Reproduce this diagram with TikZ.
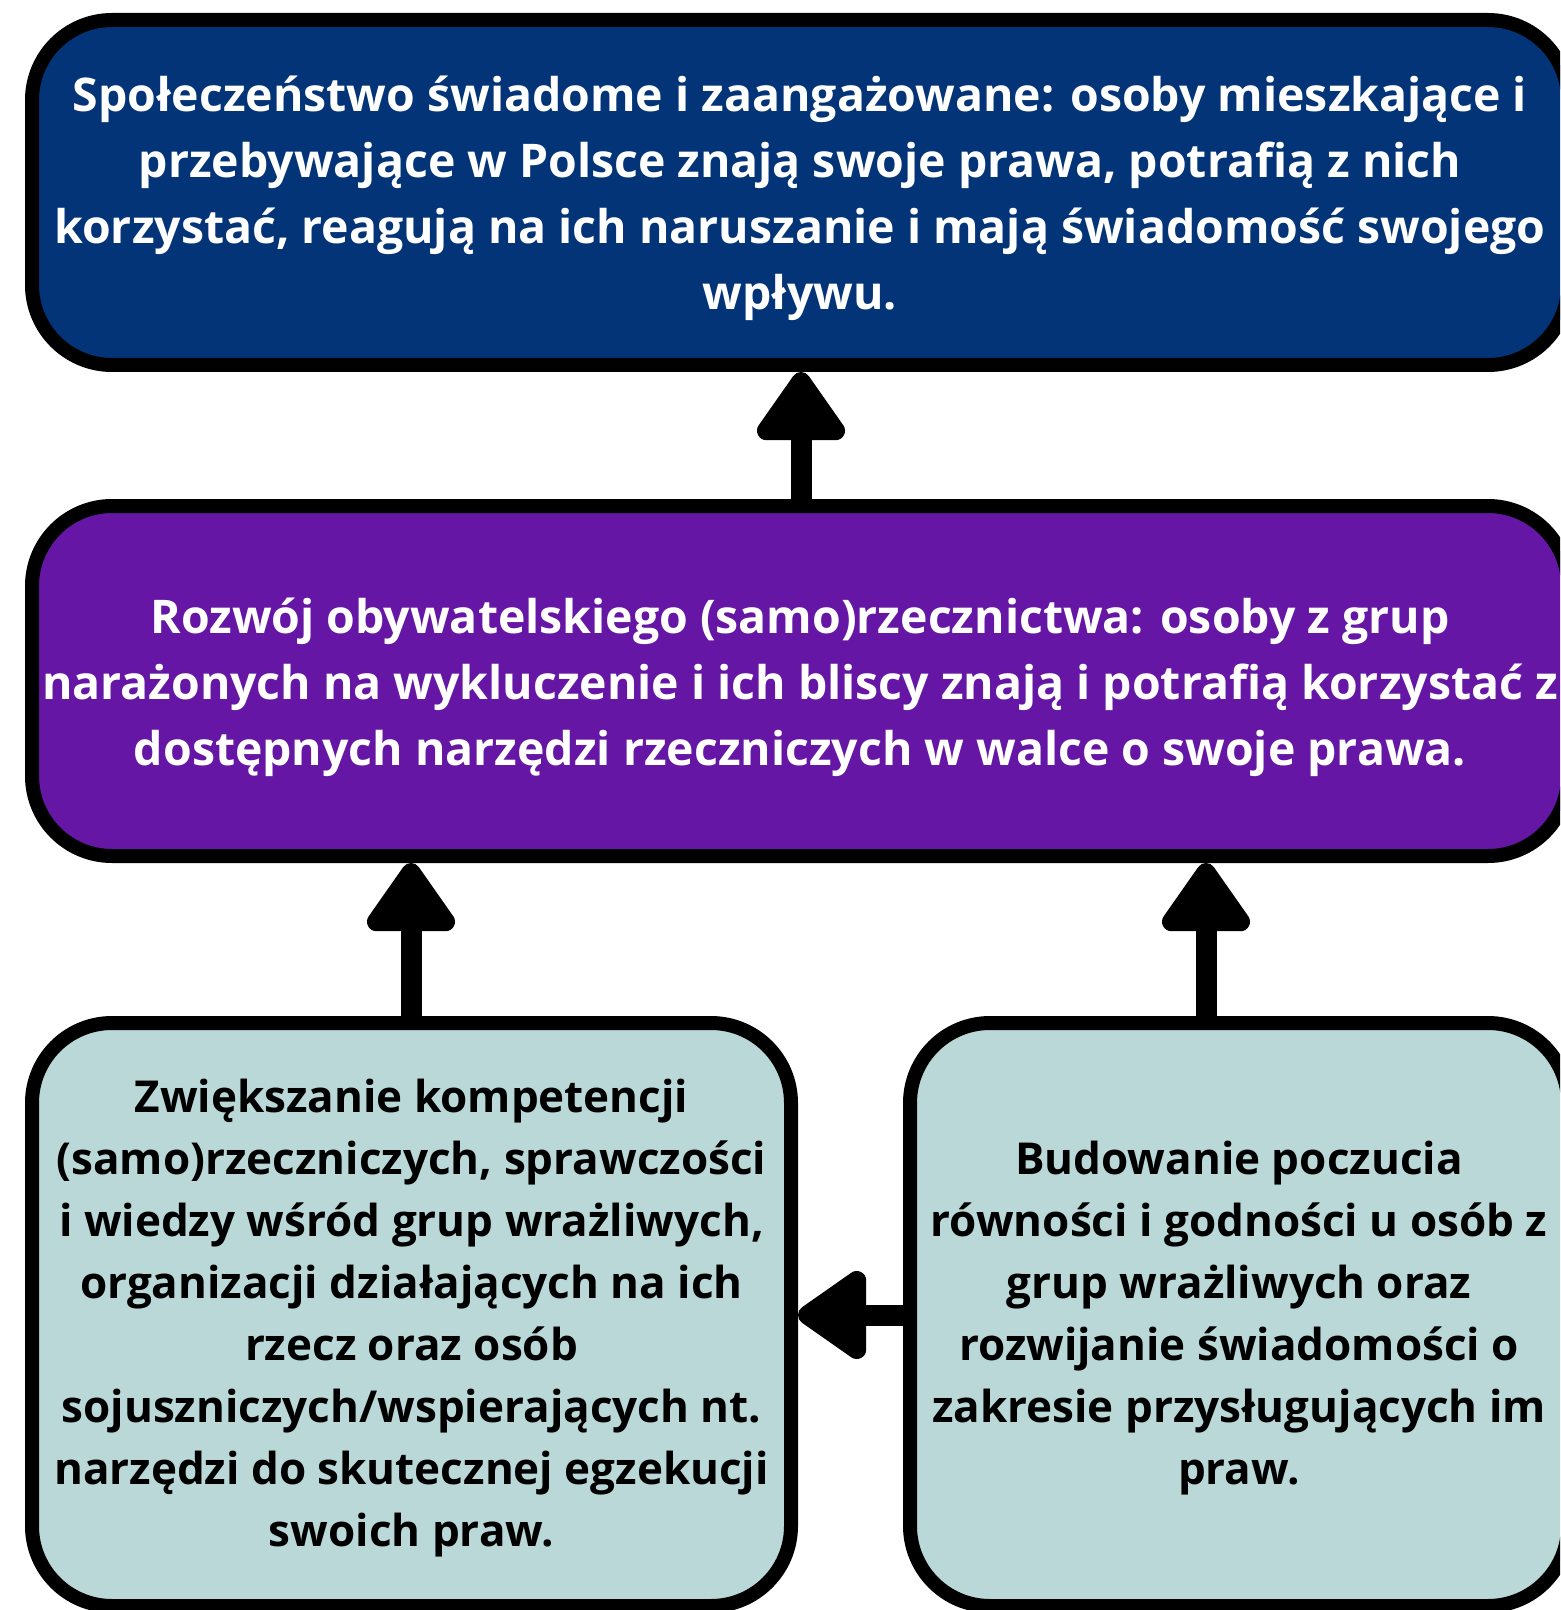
\documentclass[tikz,border=0pt]{standalone}
\usepackage{fontspec}
\setmainfont{Open Sans}
\usetikzlibrary{arrows.meta}
\definecolor{navybox}{RGB}{3,52,120}
\definecolor{purplebox}{RGB}{102,22,165}
\definecolor{tealbox}{RGB}{186,216,216}
\newcommand\myliftline[1]{\raisebox{#1}{\vphantom{l}}}
\tikzset{
  goalbox/.style={rectangle, draw=black, line width=7pt, rounded corners=40pt,
    inner sep=0pt, align=center, font=\bfseries},
  bigtext/.style={text=white, font=\bfseries\fontsize{23.2}{33}\selectfont},
  smalltext/.style={text=black, font=\bfseries\fontsize{22}{31}\selectfont},
  fatarrow/.style={draw=black, line width=10.5pt,
    -{Triangle[width=50pt,length=38pt,round]}},
}
\begin{document}
\begin{tikzpicture}[x=0.5pt,y=-0.5pt]
\useasboundingbox (0,0) rectangle (1560,1610);
\fill[white] (0,0) rectangle (1560,1610);
\clip (0,0) rectangle (1560,1610);

\node[goalbox, bigtext, fill=navybox, minimum width=768pt, minimum height=172.5pt]
  (top) at (800,192.5)
  {\myliftline{6.2pt}Społeczeństwo świadome i zaangażowane: osoby mieszkające i\\
   przebywające w Polsce znają swoje prawa, potrafią z nich\\
   korzystać, reagują na ich naruszanie i mają świadomość swojego\\
   wpływu.};

\node[goalbox, bigtext, fill=purplebox, minimum width=768pt, minimum height=175pt]
  (mid) at (800,681)
  {\myliftline{6.2pt}Rozwój obywatelskiego (samo)rzecznictwa: osoby z grup\\
   narażonych na wykluczenie i ich bliscy znają i potrafią korzystać z\\
   dostępnych narzędzi rzeczniczych w walce o swoje prawa.};

\node[goalbox, smalltext, fill=tealbox, minimum width=379.5pt, minimum height=291.5pt]
  (bl) at (411.5,1314.5)
  {\myliftline{4pt}Zwiększanie kompetencji\\
   (samo)rzeczniczych, sprawczości\\
   i wiedzy wśród grup wrażliwych,\\
   organizacji działających na ich\\
   rzecz oraz osób\\
   sojuszniczych/wspierających nt.\\
   narzędzi do skutecznej egzekucji\\
   swoich praw.};

\node[goalbox, smalltext, fill=tealbox, minimum width=329pt, minimum height=291.5pt]
  (br) at (1239,1314.5)
  {\myliftline{4pt}Budowanie poczucia\\
   równości i godności u osób z\\
   grup wrażliwych oraz\\
   rozwijanie świadomości o\\
   zakresie przysługujących im\\
   praw.};

\coordinate (xa) at (801,0);
\coordinate (xb) at (411,0);
\coordinate (xc) at (1206,0);
\coordinate (yd) at (0,1315);

\draw[fatarrow] (mid.north -| xa) -- (top.south -| xa);
\draw[fatarrow] (bl.north -| xb) -- (mid.south -| xb);
\draw[fatarrow] (br.north -| xc) -- (mid.south -| xc);
\draw[fatarrow] (br.west |- yd) -- (bl.east |- yd);
\end{tikzpicture}
\end{document}
